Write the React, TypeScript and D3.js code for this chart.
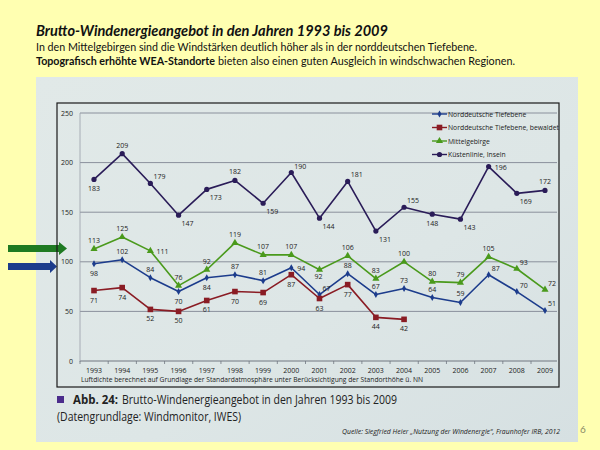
import React from "react";
import * as d3 from "d3";

const years = [1993, 1994, 1995, 1996, 1997, 1998, 1999, 2000, 2001, 2002, 2003, 2004, 2005, 2006, 2007, 2008, 2009];
const nordValues = [98, 102, 84, 70, 84, 87, 81, 94, 67, 88, 67, 73, 64, 59, 87, 70, 51];
const waldValues = [71, 74, 52, 50, 61, 70, 69, 87, 63, 77, 44, 42];
const mittelValues = [113, 125, 111, 76, 92, 119, 107, 107, 92, 106, 83, 100, 80, 79, 105, 93, 72];
const kuesteValues = [183, 209, 179, 147, 173, 182, 159, 190, 144, 181, 131, 155, 148, 143, 196, 169, 172];
const yTicks = [0, 50, 100, 150, 200, 250];
const seriesNames = ["Norddeutsche Tiefebene", "Norddeutsche Tiefebene, bewaldet", "Mittelgebirge", "Küstenlinie, Inseln"];

// label placement codes: a = above, b = below, bc = close below, r = right, ar = above-right, br = below-right
const nordPlace = ["b", "a", "a", "b", "b", "a", "a", "r", "ar", "a", "a", "a", "a", "a", "ar", "ar", "ar"];
const waldPlace = ["b", "b", "b", "b", "b", "b", "b", "b", "b", "b", "b", "b"];
const mittelPlace = ["a", "a", "r", "a", "a", "a", "a", "a", "bc", "a", "a", "a", "a", "a", "a", "ar", "ar"];
const kuestePlace = ["b", "a", "ar", "br", "br", "a", "br", "ar", "br", "ar", "br", "ar", "b", "br", "r", "br", "a"];

const COLORS = {
  nord: "#1c3c8c",
  wald: "#8a1c24",
  mittel: "#4a9a1c",
  kueste: "#2a1c58",
};

const x = d3.scaleLinear().domain([1993, 2009]).range([94, 545]);
const y = d3.scaleLinear().domain([0, 250]).range([361, 113]);

function labelPos(px: number, py: number, code: string) {
  switch (code) {
    case "a": return { x: px, y: py - 6, anchor: "middle" };
    case "b": return { x: px, y: py + 12, anchor: "middle" };
    case "bc": return { x: px - 1, y: py + 9, anchor: "middle" };
    case "r": return { x: px + 6, y: py + 3, anchor: "start" };
    case "ar": return { x: px + 3, y: py - 4, anchor: "start" };
    case "br": return { x: px + 3, y: py + 11, anchor: "start" };
    default: return { x: px, y: py - 6, anchor: "middle" };
  }
}

function Marker({ kind, cx, cy, color }: { kind: string; cx: number; cy: number; color: string }) {
  if (kind === "circle") return <circle cx={cx} cy={cy} r={2.6} fill={color} />;
  if (kind === "square") return <rect x={cx - 2.8} y={cy - 2.8} width={5.6} height={5.6} fill={color} />;
  if (kind === "triangle") return <path d={d3.symbol(d3.symbolTriangle, 22)() || ""} transform={`translate(${cx},${cy})`} fill={color} />;
  return <path d={d3.symbol(d3.symbolDiamond, 14)() || ""} transform={`translate(${cx},${cy})`} fill={color} />;
}

function Series({ values, places, color, kind }: { values: number[]; places: string[]; color: string; kind: string }) {
  const pts = values.map((v, i) => [x(years[i]), y(v)] as [number, number]);
  const line = d3.line()(pts) || "";
  return (
    <g>
      <path d={line} fill="none" stroke={color} strokeWidth={1.6} strokeLinejoin="round" />
      {pts.map((p, i) => (
        <Marker key={i} kind={kind} cx={p[0]} cy={p[1]} color={color} />
      ))}
      {pts.map((p, i) => {
        const l = labelPos(p[0], p[1], places[i]);
        return (
          <text key={"l" + i} x={l.x} y={l.y} textAnchor={l.anchor as any} fontSize={7} fill="#222" fontFamily="Open Sans">
            {values[i]}
          </text>
        );
      })}
    </g>
  );
}

export default function App() {
  const legend = [
    { name: seriesNames[0], color: COLORS.nord, kind: "diamond" },
    { name: seriesNames[1], color: COLORS.wald, kind: "square" },
    { name: seriesNames[2], color: COLORS.mittel, kind: "triangle" },
    { name: seriesNames[3], color: COLORS.kueste, kind: "circle" },
  ];
  const legendY = [114, 127.5, 141, 154.5];
  return (
    <svg width={600} height={450} style={{ position: "absolute", left: 0, top: 0 }} xmlns="http://www.w3.org/2000/svg">
      <defs>
        <linearGradient id="photo" x1="0" y1="0" x2="1" y2="1">
          <stop offset="0" stopColor="#e1e9e8" />
          <stop offset="0.6" stopColor="#dde6e6" />
          <stop offset="1" stopColor="#d6e0e2" />
        </linearGradient>
      </defs>
      <rect x={0} y={0} width={600} height={450} fill="#ffffb1" />
      {/* header text */}
      <text x={36} y={36} fontFamily="Lato" fontWeight="bold" fontStyle="italic" fontSize={16} fill="#111" textLength={352} lengthAdjust="spacingAndGlyphs">
        Brutto-Windenergieangebot in den Jahren 1993 bis 2009
      </text>
      <text x={36} y={51} fontFamily="Lato" fontSize={11.5} fill="#111" textLength={441} lengthAdjust="spacingAndGlyphs">
        In den Mittelgebirgen sind die Windstärken deutlich höher als in der norddeutschen Tiefebene.
      </text>
      <text x={36} y={65} fontFamily="Lato" fontWeight="bold" fontSize={11.5} fill="#111" textLength={179} lengthAdjust="spacingAndGlyphs">
        Topografisch erhöhte WEA-Standorte
      </text>
      <text x={218} y={65} fontFamily="Lato" fontSize={11.5} fill="#111" textLength={297} lengthAdjust="spacingAndGlyphs">
        bieten also einen guten Ausgleich in windschwachen Regionen.
      </text>

      {/* photo background */}
      <rect x={36} y={77} width={542} height={365} fill="url(#photo)" />

      {/* arrows */}
      <path d="M8,245 L59,245 L59,242 L67,248.5 L59,255 L59,252 L8,252 Z" fill="#1e7a22" />
      <path d="M8,263 L50,263 L50,260 L57,266.5 L50,273 L50,270 L8,270 Z" fill="#1c3c8c" />

      {/* frame */}
      <rect x={57} y={103} width={502} height={284} fill="none" stroke="#1a1a1a" strokeWidth={1.2} />

      {/* grid */}
      {yTicks.map((t) => (
        <g key={t}>
          <line x1={80} x2={557} y1={y(t)} y2={y(t)} stroke={t === 0 ? "#707680" : "#8a909c"} strokeWidth={t === 0 ? 1.2 : 1} />
          <text x={73} y={y(t) + 2.5} textAnchor="end" fontSize={7} fontFamily="Open Sans" fill="#222">{t}</text>
        </g>
      ))}
      <line x1={80} x2={80} y1={113} y2={362} stroke="#9aa0aa" strokeWidth={0.8} />
      {years.map((yr) => (
        <line key={"t" + yr} x1={x(yr) - 14} x2={x(yr) - 14} y1={361} y2={364} stroke="#707680" strokeWidth={0.8} />
      ))}
      {years.map((yr) => (
        <text key={"x" + yr} x={x(yr)} y={373} textAnchor="middle" fontSize={7} fontFamily="Open Sans" fill="#222">{yr}</text>
      ))}
      <text x={81} y={382} fontSize={6.6} fontFamily="Open Sans" fill="#222" textLength={342} lengthAdjust="spacingAndGlyphs">
        Luftdichte berechnet auf Grundlage der Standardatmosphäre unter Berücksichtigung der Standorthöhe ü. NN
      </text>

      {/* series */}
      <Series values={kuesteValues} places={kuestePlace} color={COLORS.kueste} kind="circle" />
      <Series values={mittelValues} places={mittelPlace} color={COLORS.mittel} kind="triangle" />
      <Series values={nordValues} places={nordPlace} color={COLORS.nord} kind="diamond" />
      <Series values={waldValues} places={waldPlace} color={COLORS.wald} kind="square" />

      {/* legend */}
      {legend.map((l, i) => (
        <g key={l.name}>
          <line x1={432} x2={447} y1={legendY[i]} y2={legendY[i]} stroke={l.color} strokeWidth={1.4} />
          <Marker kind={l.kind} cx={439.5} cy={legendY[i]} color={l.color} />
          <text x={448} y={legendY[i] + 2.5} fontSize={6.8} fontFamily="Open Sans" fill="#222">{l.name}</text>
        </g>
      ))}

      {/* caption */}
      <rect x={57} y={396} width={7} height={7} fill="#4b2c8c" />
      <text x={73} y={404} fontSize={13} fontWeight="bold" fontFamily="Open Sans" fill="#222" textLength={45} lengthAdjust="spacingAndGlyphs">
        Abb. 24:
      </text>
      <text x={122} y={404} fontSize={13} fontFamily="Open Sans" fill="#222" textLength={275} lengthAdjust="spacingAndGlyphs">
        Brutto-Windenergieangebot in den Jahren 1993 bis 2009
      </text>
      <text x={57} y={421} fontSize={13} fontFamily="Open Sans" fill="#222" textLength={184} lengthAdjust="spacingAndGlyphs">
        (Datengrundlage: Windmonitor, IWES)
      </text>
      <text x={342} y={434} fontSize={6.8} fontFamily="Open Sans" fontStyle="italic" fill="#222" textLength={218} lengthAdjust="spacingAndGlyphs">
        Quelle:  Siegfried Heier „Nutzung der Windenergie“, Fraunhofer IRB, 2012
      </text>
      <text x={580} y={433} fontSize={10} fontFamily="Lato" fill="#8a8a66">6</text>
    </svg>
  );
}
